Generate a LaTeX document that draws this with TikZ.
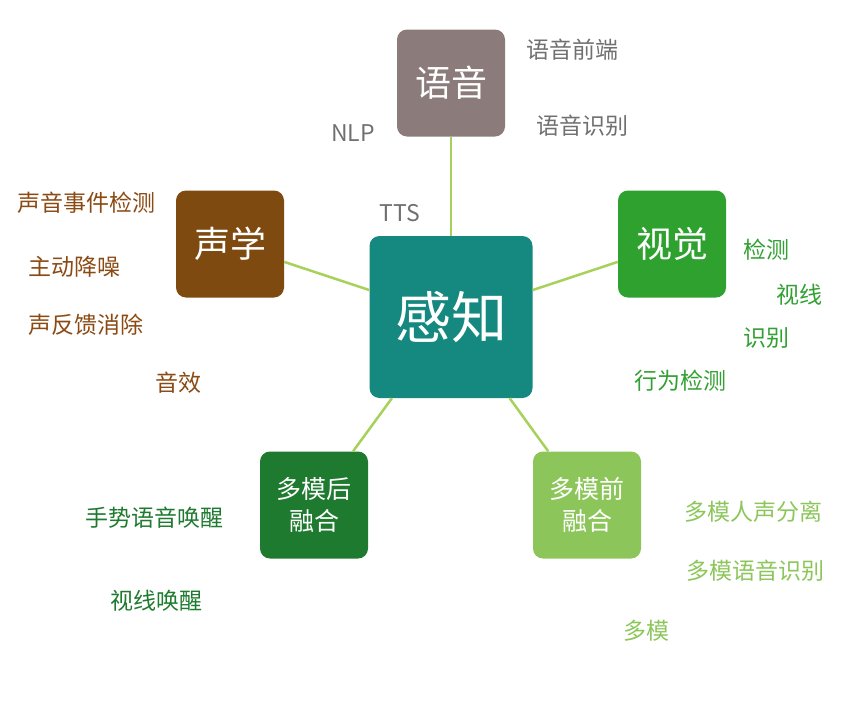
\documentclass[tikz,border=0pt]{standalone}
\usepackage{fontspec}
\setmainfont{Noto Sans CJK SC}
\definecolor{cyy}{HTML}{8C7B7B}
\definecolor{csx}{HTML}{7F4A10}
\definecolor{csj}{HTML}{2EA12E}
\definecolor{cgz}{HTML}{15897F}
\definecolor{chr}{HTML}{1E7A2E}
\definecolor{cqr}{HTML}{8CC65A}
\definecolor{cln}{HTML}{A6D15A}
\definecolor{cgray}{HTML}{707070}
\definecolor{cbr}{HTML}{8B4A14}
\definecolor{cvis}{HTML}{33A033}
\begin{document}
\begin{tikzpicture}[x=1pt,y=-1pt,
 box/.style={rounded corners=10pt,text=white,inner sep=0pt,minimum width=108pt,minimum height=107pt,align=center},
 lab/.style={font=\fontsize{23}{23}\selectfont},
 ln/.style={draw=cln,line width=2.5pt}]
\useasboundingbox (0,0) rectangle (852,710);
\node[box,fill=cgz,minimum width=163pt,minimum height=162pt,font=\fontsize{56}{56}\selectfont] (gz) at (451,317) {感知};
\node[box,fill=cyy,font=\fontsize{36}{36}\selectfont] (yy) at (451,83) {语音};
\node[box,fill=csx,font=\fontsize{36}{36}\selectfont] (sx) at (230,244) {声学};
\node[box,fill=csj,font=\fontsize{36}{36}\selectfont] (sj) at (672,244) {视觉};
\node[box,fill=chr,font=\fontsize{25}{32}\selectfont] (hr) at (314,505) {多模后\\融合};
\node[box,fill=cqr,font=\fontsize{25}{32}\selectfont] (qr) at (587,505) {多模前\\融合};
\draw[ln] (gz) -- (yy); \draw[ln] (gz) -- (sx); \draw[ln] (gz) -- (sj);
\draw[ln] (gz) -- (hr); \draw[ln] (gz) -- (qr);
\begin{scope}[every node/.style={lab}]
\node[text=cgray] (t1) at (572,50) {语音前端};
\node[text=cgray] (t2) at (582,126) {语音识别};
\node[text=cgray] (t3) at (353,133) {NLP};
\node[text=cgray] (t4) at (400,213) {TTS};
\node[text=cbr] (a1) at (86,203) {声音事件检测};
\node[text=cbr] (a2) at (74,267) {主动降噪};
\node[text=cbr] (a3) at (86,325) {声反馈消除};
\node[text=cbr] (a4) at (178,383) {音效};
\node[text=cvis] (v1) at (766,250) {检测};
\node[text=cvis] (v2) at (799,295) {视线};
\node[text=cvis] (v3) at (766,338) {识别};
\node[text=cvis] (v4) at (680,381) {行为检测};
\node[text=chr] (h1) at (154,518) {手势语音唤醒};
\node[text=chr] (h2) at (156,601) {视线唤醒};
\node[text=cqr] (q1) at (753,512) {多模人声分离};
\node[text=cqr] (q2) at (755,571) {多模语音识别};
\node[text=cqr] (q3) at (646,631) {多模};
\end{scope}
\end{tikzpicture}
\end{document}
